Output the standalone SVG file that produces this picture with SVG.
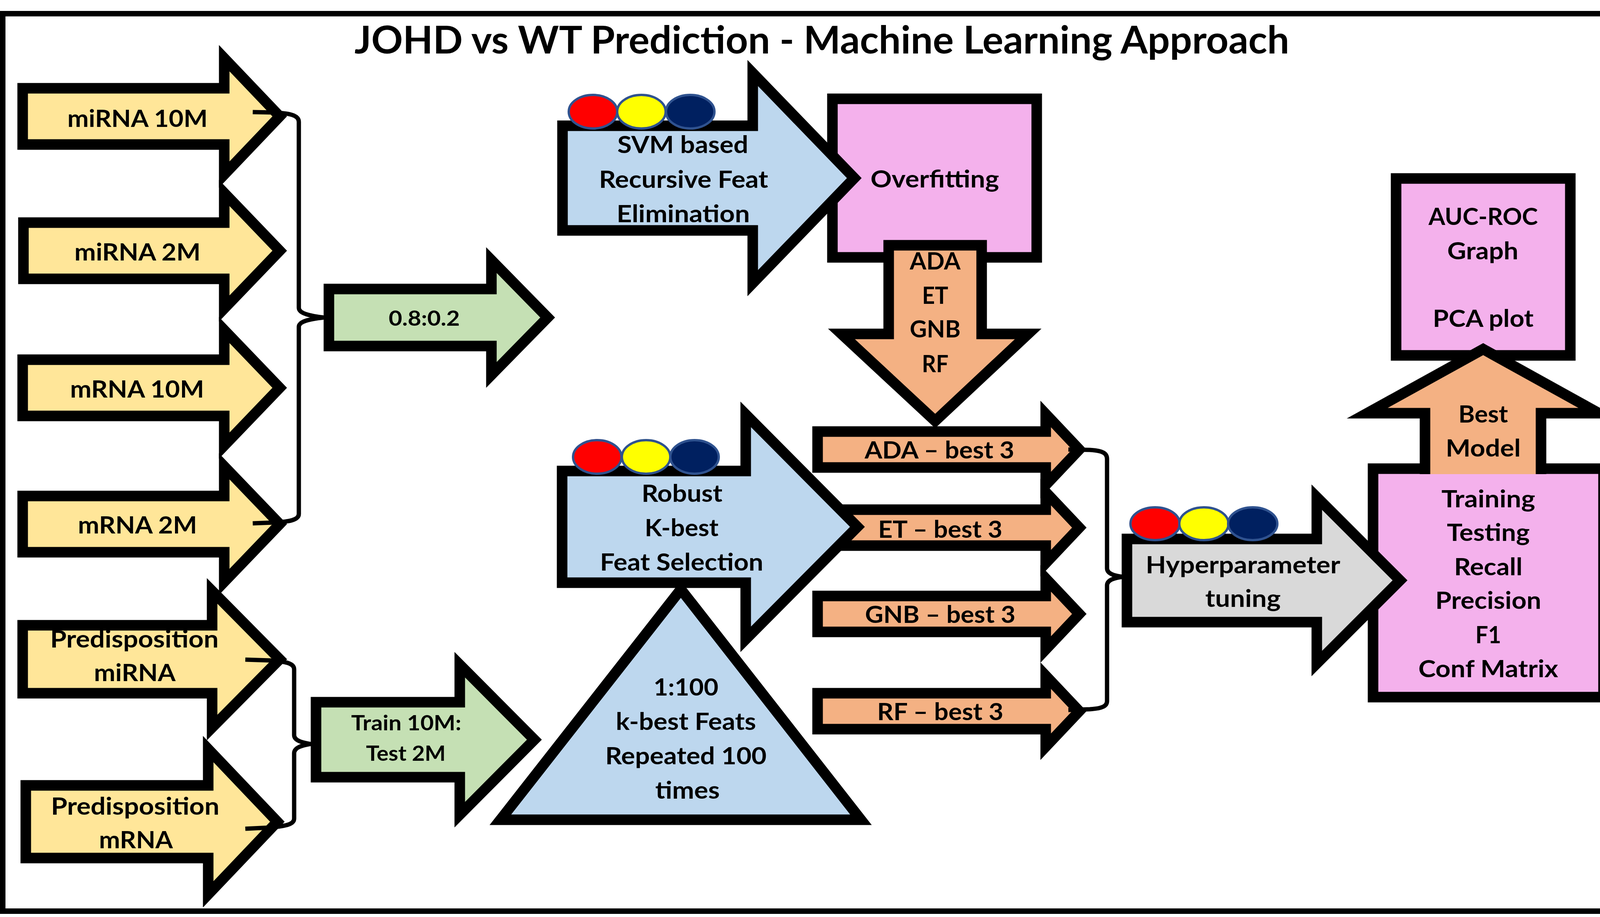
<svg xmlns="http://www.w3.org/2000/svg" width="4171" height="2348" viewBox="0 0 4171 2348">
<style>
.sh{stroke:#000;stroke-width:27;stroke-linejoin:miter;stroke-miterlimit:10}
.yel{fill:#FFE699}
.grn{fill:#C5E0B4}
.blu{fill:#BDD7EE}
.pnk{fill:#F4B1EC}
.org{fill:#F4B183}
.gry{fill:#D9D9D9}
.dot{stroke:#2F528F;stroke-width:6}
.t{font-family:Lato,"Open Sans","Liberation Sans",sans-serif;font-weight:bold;font-size:61px;fill:#000;text-anchor:middle}
.s{font-size:53px}
.brace{fill:none;stroke:#000;stroke-width:11;stroke-linejoin:round}
</style>
<rect x="7" y="35" width="4157" height="2298" fill="#fff" stroke="#000" stroke-width="14"/>
<text id="title" class="t" x="2104" y="137" style="font-size:98px" textLength="2393" lengthAdjust="spacingAndGlyphs">JOHD vs WT Prediction - Machine Learning Approach</text>

<g id="in-mirna10m">
<path class="sh yel" d="M58,226 L574,226 L574,149 L716,298 L574,447 L574,370 L58,370 Z"/>
<text class="t" x="352" y="325" textLength="359" lengthAdjust="spacingAndGlyphs">miRNA 10M</text>
</g>
<g id="in-mirna2m">
<path class="sh yel" d="M60,570 L574,570 L574,494 L716,642 L574,790 L574,714 L60,714 Z"/>
<text class="t" x="352" y="667" textLength="323" lengthAdjust="spacingAndGlyphs">miRNA 2M</text>
</g>
<g id="in-mrna10m">
<path class="sh yel" d="M58,921 L574,921 L574,845 L716,993 L574,1141 L574,1065 L58,1065 Z"/>
<text class="t" x="351" y="1018" textLength="343" lengthAdjust="spacingAndGlyphs">mRNA 10M</text>
</g>
<g id="in-mrna2m">
<path class="sh yel" d="M58,1270 L574,1270 L574,1194 L716,1342 L574,1490 L574,1414 L58,1414 Z"/>
<text class="t" x="352" y="1366" textLength="305" lengthAdjust="spacingAndGlyphs">mRNA 2M</text>
</g>
<g id="in-pre-mirna">
<path class="sh yel" d="M58,1601 L543,1601 L543,1513 L716,1688 L543,1863 L543,1775 L58,1775 Z"/>
<text class="t" x="344" y="1658" textLength="431" lengthAdjust="spacingAndGlyphs">Predisposition</text>
<text class="t" x="345" y="1744" textLength="209" lengthAdjust="spacingAndGlyphs">miRNA</text>
</g>
<g id="in-pre-mrna">
<path class="sh yel" d="M66,2011 L533,2011 L533,1918 L710,2104 L533,2290 L533,2197 L66,2197 Z"/>
<text class="t" x="346" y="2086" textLength="431" lengthAdjust="spacingAndGlyphs">Predisposition</text>
<text class="t" x="348" y="2172" textLength="189" lengthAdjust="spacingAndGlyphs">mRNA</text>
</g>

<g id="split-08">
<path class="sh grn" d="M842,740 L1258,740 L1258,666 L1402,813 L1258,960 L1258,886 L842,886 Z"/>
<text class="t s" x="1086" y="834" textLength="182" lengthAdjust="spacingAndGlyphs">0.8:0.2</text>
</g>
<g id="split-train">
<path class="sh grn" d="M809,1798 L1177,1798 L1177,1702 L1368,1894 L1177,2086 L1177,1990 L809,1990 Z"/>
<text class="t s" x="1040" y="1870" textLength="282" lengthAdjust="spacingAndGlyphs">Train 10M:</text>
<text class="t s" x="1039" y="1948" textLength="204" lengthAdjust="spacingAndGlyphs">Test 2M</text>
</g>

<g id="overfitting">
<rect class="sh pnk" x="2131" y="253" width="523" height="406"/>
<text class="t" x="2393" y="480" textLength="329" lengthAdjust="spacingAndGlyphs">Overfitting</text>
</g>
<g id="models-down">
<path class="sh org" d="M2275,628 L2513,628 L2513,855 L2632,855 L2394,1078 L2154,855 L2275,855 Z"/>
<text class="t" x="2394" y="690" textLength="130" lengthAdjust="spacingAndGlyphs">ADA</text>
<text class="t" x="2394" y="778" textLength="67" lengthAdjust="spacingAndGlyphs">ET</text>
<text class="t" x="2394" y="864" textLength="130" lengthAdjust="spacingAndGlyphs">GNB</text>
<text class="t" x="2394" y="953" textLength="68" lengthAdjust="spacingAndGlyphs">RF</text>
</g>
<g id="svm-rfe">
<path class="sh blu" d="M1440,322 L1927,322 L1927,187 L2187,456 L1927,725 L1927,590 L1440,590 Z"/>
<text class="t" x="1748" y="392" textLength="335" lengthAdjust="spacingAndGlyphs">SVM based</text>
<text class="t" x="1750" y="481" textLength="433" lengthAdjust="spacingAndGlyphs">Recursive Feat</text>
<text class="t" x="1749" y="569" textLength="341" lengthAdjust="spacingAndGlyphs">Elimination</text>
<ellipse class="dot" cx="1518" cy="286" rx="62" ry="43" fill="#FF0000"/>
<ellipse class="dot" cx="1642" cy="286" rx="62" ry="43" fill="#FFFF00"/>
<ellipse class="dot" cx="1767" cy="286" rx="62" ry="43" fill="#002060"/>
</g>

<g id="ada-best">
<path class="sh org" d="M2093,1105 L2677,1105 L2677,1060 L2763,1151 L2677,1242 L2677,1197 L2093,1197 Z"/>
<text class="t" x="2405" y="1174" textLength="383" lengthAdjust="spacingAndGlyphs">ADA – best 3</text>
</g>
<g id="et-best">
<path class="sh org" d="M2093,1305 L2677,1305 L2677,1260 L2763,1351 L2677,1442 L2677,1397 L2093,1397 Z"/>
<text class="t" x="2407" y="1377" textLength="318" lengthAdjust="spacingAndGlyphs">ET – best 3</text>
</g>
<g id="gnb-best">
<path class="sh org" d="M2093,1526 L2677,1526 L2677,1481 L2763,1572 L2677,1663 L2677,1618 L2093,1618 Z"/>
<text class="t" x="2407" y="1595" textLength="385" lengthAdjust="spacingAndGlyphs">GNB – best 3</text>
</g>
<g id="rf-best">
<path class="sh org" d="M2093,1775 L2677,1775 L2677,1730 L2763,1821 L2677,1912 L2677,1867 L2093,1867 Z"/>
<text class="t" x="2407" y="1844" textLength="323" lengthAdjust="spacingAndGlyphs">RF – best 3</text>
</g>

<g id="robust-kbest">
<path class="sh blu" d="M1439,1206 L1909,1206 L1909,1061 L2195,1349 L1909,1637 L1909,1492 L1439,1492 Z"/>
<text class="t" x="1746" y="1285" textLength="207" lengthAdjust="spacingAndGlyphs">Robust</text>
<text class="t" x="1745" y="1373" textLength="189" lengthAdjust="spacingAndGlyphs">K-best</text>
<text class="t" x="1745" y="1461" textLength="418" lengthAdjust="spacingAndGlyphs">Feat Selection</text>
<ellipse class="dot" cx="1529" cy="1170" rx="62" ry="43" fill="#FF0000"/>
<ellipse class="dot" cx="1654" cy="1170" rx="62" ry="43" fill="#FFFF00"/>
<ellipse class="dot" cx="1778" cy="1170" rx="62" ry="43" fill="#002060"/>
</g>
<g id="kbest-repeat">
<path class="sh blu" d="M1743,1509 L2204,2099 L1281,2099 Z"/>
<text class="t" x="1756" y="1781" textLength="166" lengthAdjust="spacingAndGlyphs">1:100</text>
<text class="t" x="1756" y="1869" textLength="359" lengthAdjust="spacingAndGlyphs">k-best Feats</text>
<text class="t" x="1756" y="1957" textLength="413" lengthAdjust="spacingAndGlyphs">Repeated 100</text>
<text class="t" x="1760" y="2045" textLength="165" lengthAdjust="spacingAndGlyphs">times</text>
</g>

<g id="metrics">
<rect class="sh pnk" x="3515" y="1200" width="590" height="585"/>
<text class="t" x="3810" y="1299" textLength="240" lengthAdjust="spacingAndGlyphs">Training</text>
<text class="t" x="3810" y="1385" textLength="212" lengthAdjust="spacingAndGlyphs">Testing</text>
<text class="t" x="3810" y="1473" textLength="175" lengthAdjust="spacingAndGlyphs">Recall</text>
<text class="t" x="3810" y="1559" textLength="271" lengthAdjust="spacingAndGlyphs">Precision</text>
<text class="t" x="3810" y="1647" textLength="66" lengthAdjust="spacingAndGlyphs">F1</text>
<text class="t" x="3810" y="1734" textLength="358" lengthAdjust="spacingAndGlyphs">Conf Matrix</text>
</g>
<g id="hyperparameter">
<path class="sh gry" d="M2885,1380 L3371,1380 L3371,1273 L3584,1486 L3371,1699 L3371,1593 L2885,1593 Z"/>
<text class="t" x="3182" y="1468" textLength="498" lengthAdjust="spacingAndGlyphs">Hyperparameter</text>
<text class="t" x="3182" y="1554" textLength="193" lengthAdjust="spacingAndGlyphs">tuning</text>
<ellipse class="dot" cx="2957" cy="1341" rx="63" ry="42" fill="#FF0000"/>
<ellipse class="dot" cx="3082" cy="1341" rx="63" ry="42" fill="#FFFF00"/>
<ellipse class="dot" cx="3207" cy="1341" rx="63" ry="42" fill="#002060"/>
</g>
<g id="plots">
<rect class="sh pnk" x="3574" y="457" width="446" height="453"/>
<text class="t" x="3797" y="576" textLength="280" lengthAdjust="spacingAndGlyphs">AUC-ROC</text>
<text class="t" x="3796" y="664" textLength="182" lengthAdjust="spacingAndGlyphs">Graph</text>
<text class="t" x="3797" y="837" textLength="258" lengthAdjust="spacingAndGlyphs">PCA plot</text>
</g>
<g id="best-model">
<path class="sh org" d="M3648,1214 L3648,1058 L3500,1058 L3797,894 L4093,1058 L3945,1058 L3945,1214"/>
<text class="t" x="3797" y="1082" textLength="127" lengthAdjust="spacingAndGlyphs">Best</text>
<text class="t" x="3797" y="1169" textLength="192" lengthAdjust="spacingAndGlyphs">Model</text>
</g>

<g id="connectors">
<path class="brace" d="M647,287 L700,288 C742,290 765,295 765,312 L765,788 C765,803 795,809 828,813 C795,817 765,822 765,837 L765,1316 C765,1331 742,1336 700,1338 L647,1340"/>
<path class="brace" d="M628,1689 L690,1691 C735,1694 753,1699 753,1714 L753,1882 C753,1896 772,1901 794,1905 C772,1909 753,1914 753,1929 L753,2096 C753,2110 735,2115 690,2119 L628,2122"/>
<path class="brace" d="M2735,1151 L2790,1152 C2822,1154 2834,1160 2834,1175 L2834,1455 C2834,1468 2850,1474 2874,1477 C2850,1480 2834,1486 2834,1499 L2834,1795 C2834,1808 2822,1814 2790,1816 L2735,1818"/>
</g>
</svg>
